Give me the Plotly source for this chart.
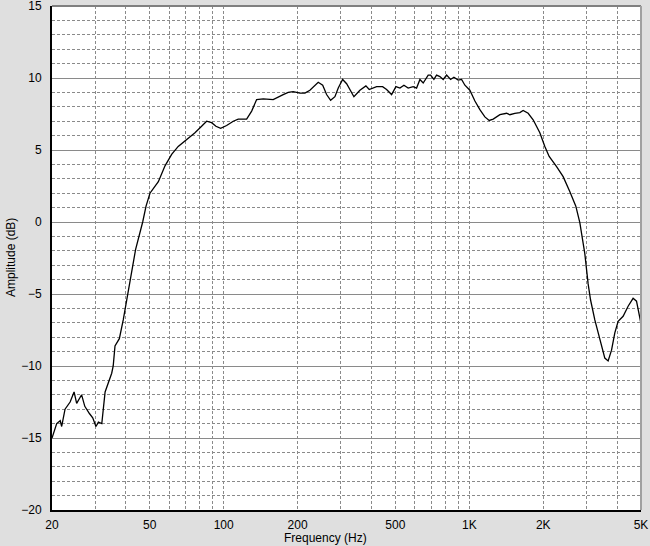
import plotly.graph_objects as go

freq_hz = [20.0, 20.9, 21.6, 21.9, 22.6, 23.7, 24.6, 25.2, 26.4, 27.2, 28.4, 29.3, 30.2, 30.9, 31.9,
           32.9, 35.0, 35.5, 36.1, 37.6, 39.0, 40.9, 42.6, 43.8, 46.8, 48.3, 50.1, 54.2, 57.7, 61.4,
           65.3, 70.7, 76.4, 81.3, 85.2, 89.3, 93.0, 97.2, 102.8, 109.4, 114.6, 124.0, 130.0, 136.2,
           144.9, 159.1, 166.7, 174.7, 183.1, 191.9, 204.4, 214.2, 224.4, 242.6, 253.0, 262.4, 272.5,
           283.7, 292.7, 305.0, 316.6, 328.7, 339.0, 358.6, 379.3, 391.2, 404.0, 419.4, 443.6, 460.5,
           482.6, 502.6, 521.8, 541.7, 563.8, 590.8, 610.0, 629.3, 649.0, 680.2, 695.6, 717.5, 735.8,
           759.0, 782.8, 808.2, 839.0, 865.4, 901.0, 930.2, 959.5, 1005, 1054, 1104, 1157, 1205, 1251,
           1332, 1418, 1462, 1532, 1606, 1656, 1736, 1819, 1937, 2030, 2114, 2266, 2410, 2567, 2714,
           2818, 2890, 2953, 3046, 3115, 3243, 3400, 3562, 3674, 3793, 3912, 4035, 4228, 4431, 4643,
           4794, 4946, 5000]
amp_db = [-15.0, -14.0, -13.8, -14.2, -13.0, -12.5, -11.8, -12.6, -12.0, -12.8, -13.3, -13.6, -14.2, -13.9, -14.0,
          -11.8, -10.5, -10.0, -8.6, -8.1, -6.8, -4.9, -3.1, -1.9, 0.0, 1.1, 2.0, 2.8, 3.9, 4.7,
          5.25, 5.7, 6.2, 6.65, 7.0, 6.9, 6.65, 6.5, 6.7, 7.0, 7.15, 7.15, 7.7, 8.5,
          8.55, 8.5, 8.7, 8.85, 9.0, 9.05, 8.95, 8.95, 9.15, 9.7, 9.5, 8.85, 8.45,
          8.7, 9.3, 9.9, 9.6, 9.1, 8.7, 9.15, 9.45, 9.2, 9.3, 9.4, 9.4, 9.2,
          8.85, 9.4, 9.3, 9.5, 9.3, 9.4, 9.3, 9.9, 9.65, 10.2, 10.2, 9.9, 10.2,
          10.1, 9.9, 10.2, 9.9, 10.05, 9.85, 9.9, 9.5, 9.15, 8.4, 7.8, 7.3, 7.05, 7.15,
          7.45, 7.55, 7.45, 7.55, 7.6, 7.75, 7.55, 7.1, 6.2, 5.25, 4.55, 3.85, 3.15, 2.1, 1.1,
          -0.05, -1.2, -2.2, -4.3, -5.4, -6.8, -8.2, -9.45, -9.65, -8.9, -7.7, -6.9, -6.55, -5.85,
          -5.3, -5.5, -6.65, -7.1]

x_grid_vals = [20, 30, 40, 50, 60, 70, 80, 90, 100, 200, 300, 400, 500, 600, 700, 800, 900,
               1000, 2000, 3000, 4000, 5000]
x_labels = {20: "20", 50: "50", 100: "100", 200: "200", 500: "500", 1000: "1K", 2000: "2K", 5000: "5K"}
y_ticks = [-20, -15, -10, -5, 0, 5, 10, 15]

FONT = "Liberation Sans, Arial, sans-serif"
BG = "#dfdfdf"

W, H = 650, 546
ML, MR, MT, MB = 52, 9, 6, 36

fig = go.Figure()
fig.add_trace(go.Scatter(x=freq_hz, y=amp_db, mode="lines",
                         line=dict(color="#000000", width=1.3), hoverinfo="skip"))

pw = W - ML - MR
ph = H - MT - MB

fig.update_layout(
    width=W, height=H,
    margin=dict(l=ML, r=MR, t=MT, b=MB, autoexpand=False),
    paper_bgcolor=BG, plot_bgcolor="#ffffff",
    showlegend=False,
    font=dict(family=FONT, size=12, color="#000000"),
    xaxis=dict(type="log", range=[1.30103, 3.69897],
               tickvals=x_grid_vals,
               ticktext=[x_labels.get(v, "") for v in x_grid_vals],
               showgrid=True, gridcolor="#8a8a8a", griddash="3px,2px", gridwidth=1,
               ticks="outside", ticklen=3, tickcolor="rgba(0,0,0,0)",
               showline=True, linecolor="#000000", linewidth=2, mirror=False,
               zeroline=False, tickfont=dict(size=12), ticklabeloverflow="allow",
               automargin=False),
    yaxis=dict(range=[-20, 15], tickvals=y_ticks,
               showgrid=True, gridcolor="#8a8a8a", gridwidth=1,
               minor=dict(dtick=1, showgrid=True, gridcolor="#8a8a8a", griddash="3px,2px", gridwidth=1),
               ticks="outside", ticklen=6, tickcolor="rgba(0,0,0,0)",
               showline=True, linecolor="#000000", linewidth=2, mirror=False,
               zeroline=False, tickfont=dict(size=12), ticklabeloverflow="allow",
               automargin=False),
    annotations=[
        dict(text="Frequency (Hz)", x=(325 - ML) / pw, y=(H - MB - 538) / ph,
             xref="paper", yref="paper", showarrow=False, xanchor="center", yanchor="middle",
             font=dict(size=12)),
        dict(text="Amplitude (dB)", textangle=-90, x=(11 - ML) / pw, y=(H - MB - 258) / ph,
             xref="paper", yref="paper", showarrow=False, xanchor="center", yanchor="middle",
             font=dict(size=12)),
    ],
)

# top and right plot borders (gray)
fig.add_shape(type="line", xref="paper", yref="paper", x0=0, x1=1, y0=1, y1=1,
              line=dict(color="#808080", width=2))
fig.add_shape(type="line", xref="paper", yref="paper", x0=1, x1=1, y0=0, y1=1,
              line=dict(color="#a0a0a0", width=2))

fig.write_html("out.html", config={"displayModeBar": False},
               post_script="document.body.style.margin='0';document.body.style.background='%s';" % BG)
